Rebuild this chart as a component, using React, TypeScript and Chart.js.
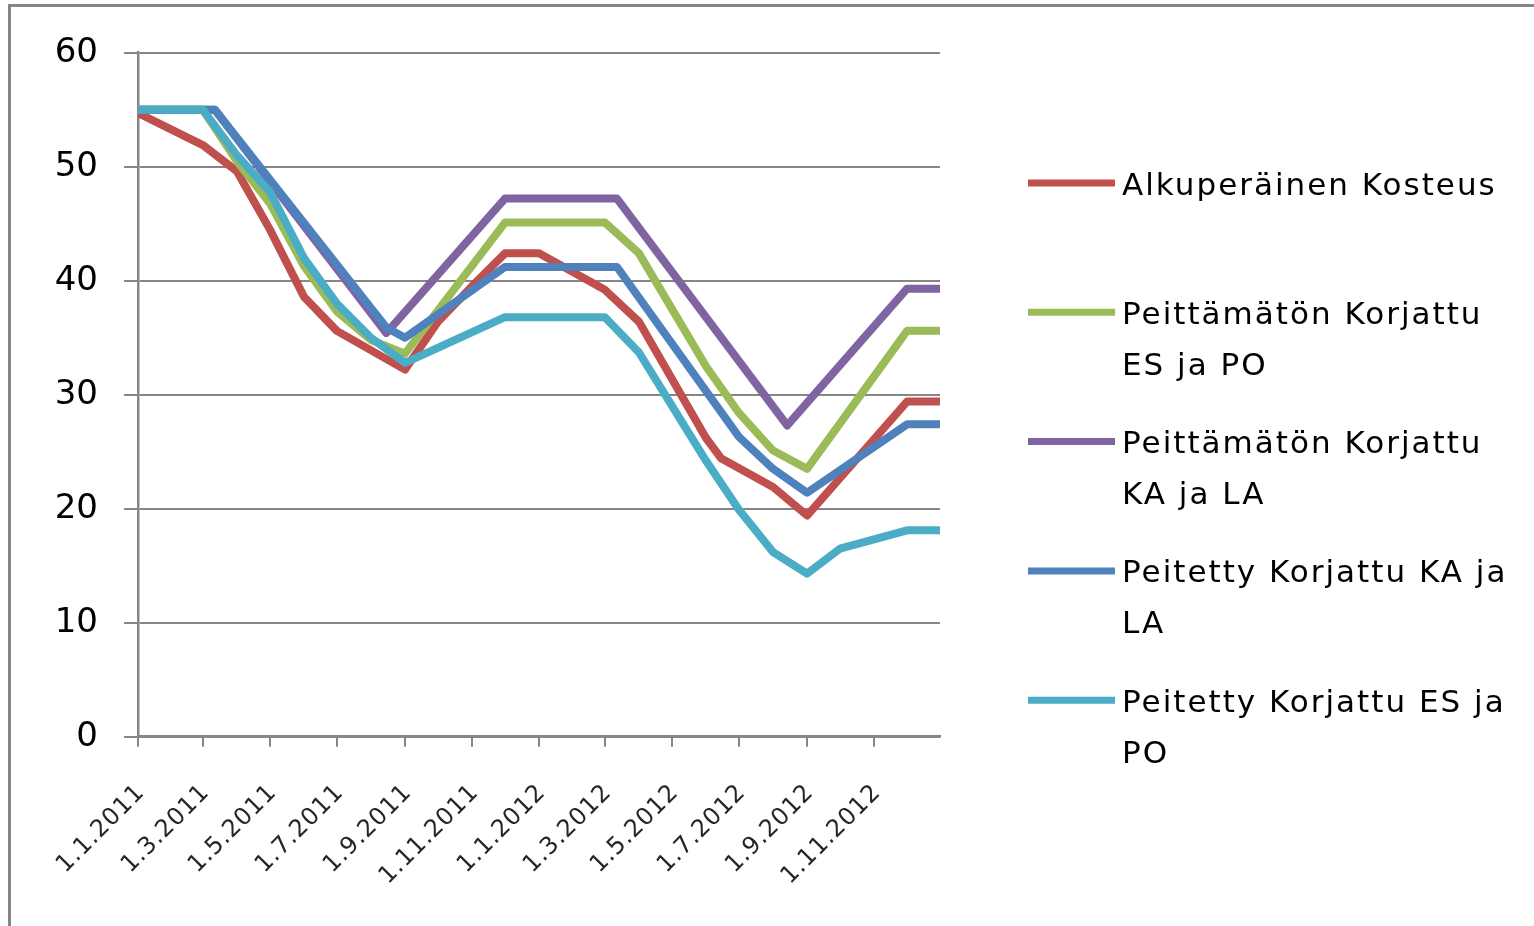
import React, { useEffect, useRef } from "react";
import { Chart, registerables } from "chart.js";

Chart.register(...registerables);

// Measurement dates (d.m.yyyy) shared by all series; null = no reading on that date
const dates = [
  "1.1.2011", "1.3.2011", "12.3.2011", "1.4.2011", "1.5.2011", "1.6.2011",
  "1.7.2011", "1.8.2011", "15.8.2011", "1.9.2011", "1.10.2011", "1.11.2011",
  "1.12.2011", "1.1.2012", "1.2.2012", "1.3.2012", "12.3.2012", "1.4.2012",
  "1.5.2012", "1.6.2012", "15.6.2012", "1.7.2012", "1.8.2012", "14.8.2012",
  "1.9.2012", "1.10.2012", "1.11.2012", "1.12.2012", "31.12.2012",
];

const alkuperainen = [
  54.7, 51.9, null, 49.6, 44.5, 38.6, 35.6, null, null, 32.2, 36.4, 39.5,
  42.4, 42.4, null, 39.2, null, 36.4, null, 26.2, 24.4, null, 21.9, null,
  19.4, null, null, 29.4, 29.4,
];
const peittamatonEsPo = [
  55, 55, null, 50.5, 46.8, 41.3, 37.3, 34.8, null, 33.6, null, null,
  45.1, null, null, 45.1, null, 42.4, null, 32.5, null, 28.4, 25.1, null,
  23.5, null, null, 35.6, 35.6,
];
const peittamatonKaLa = [
  55, null, 55, null, null, null, null, null, 35.4, null, null, null,
  47.2, null, null, null, 47.2, null, null, null, null, null, null, 27.3,
  null, null, null, 39.3, 39.3,
];
const peitettyKaLa = [
  55, null, 55, null, null, null, null, null, 35.9, 35.0, null, null,
  41.2, null, null, null, 41.2, null, null, null, null, 26.3, 23.5, null,
  21.4, null, null, 27.4, 27.4,
];
const peitettyEsPo = [
  55, 55, null, 51.0, 47.8, 42.0, 38.0, 35.0, null, 32.8, null, null,
  36.8, null, null, 36.8, null, 33.7, null, 24.2, null, 19.9, 16.2, null,
  14.3, 16.5, null, 18.1, 18.1,
];

const seriesNames = [
  "Alkuperäinen Kosteus",
  "Peittämätön Korjattu ES ja PO",
  "Peittämätön Korjattu KA ja LA",
  "Peitetty Korjattu KA ja LA",
  "Peitetty Korjattu ES ja PO",
];
const seriesValues = [alkuperainen, peittamatonEsPo, peittamatonKaLa, peitettyKaLa, peitettyEsPo];
const seriesColors = ["#C0504D", "#9BBB59", "#8064A2", "#4F81BD", "#4BACC6"];

const tickLabels = [
  "1.1.2011", "1.3.2011", "1.5.2011", "1.7.2011", "1.9.2011", "1.11.2011",
  "1.1.2012", "1.3.2012", "1.5.2012", "1.7.2012", "1.9.2012", "1.11.2012",
];

const yMin = 0;
const yMax = 60;
const yStep = 10;

const W = 1534;
const H = 926;
const GRAY = "#868686";

// days since 1.1.2011
function dayOf(s: string): number {
  const [d, m, y] = s.split(".").map(Number);
  return (Date.UTC(y, m - 1, d) - Date.UTC(2011, 0, 1)) / 86400000;
}

function wrapWords(ctx: CanvasRenderingContext2D, text: string, maxWidth: number, spacing: number): string[] {
  const words = text.split(" ");
  const lines: string[] = [];
  let cur = "";
  const width = (t: string) => ctx.measureText(t).width + spacing * t.length;
  for (const w of words) {
    const test = cur ? cur + " " + w : w;
    if (cur && width(test) > maxWidth) {
      lines.push(cur);
      cur = w;
    } else {
      cur = test;
    }
  }
  if (cur) lines.push(cur);
  return lines;
}

const decorPlugin = {
  id: "decor",
  afterDraw(chart: any) {
    const ctx: CanvasRenderingContext2D = chart.ctx;
    ctx.save();

    // outer frame (top and left edges)
    ctx.fillStyle = GRAY;
    ctx.fillRect(8, 4, W - 8, 3);
    ctx.fillRect(8, 4, 3, H - 4);

    // rotated date labels under the x axis
    const xs = chart.scales.x;
    ctx.font = '24px "DejaVu Sans"';
    (ctx as any).letterSpacing = "0.8px";
    ctx.fillStyle = "#262626";
    ctx.textAlign = "right";
    ctx.textBaseline = "middle";
    for (const t of tickLabels) {
      const px = xs.getPixelForValue(dayOf(t));
      ctx.save();
      ctx.translate(px + 3, 789);
      ctx.rotate(-Math.PI / 4);
      ctx.fillText(t, 0, 0);
      ctx.restore();
    }

    // legend on the right
    const spacing = 2;
    ctx.font = '31px "DejaVu Sans"';
    ctx.textAlign = "left";
    ctx.textBaseline = "alphabetic";
    ctx.fillStyle = "#000";
    chart.data.datasets.forEach((ds: any, i: number) => {
      const y = 183 + i * 129.3;
      ctx.strokeStyle = ds.borderColor;
      ctx.lineWidth = 7;
      ctx.lineCap = "butt";
      ctx.beginPath();
      ctx.moveTo(1028, y);
      ctx.lineTo(1115, y);
      ctx.stroke();
      (ctx as any).letterSpacing = "0px";
      const lines = wrapWords(ctx, ds.label, 395, spacing);
      (ctx as any).letterSpacing = spacing + "px";
      lines.forEach((ln, k) => {
        ctx.fillText(ln, 1122, y + 11.5 + k * 51);
      });
    });

    ctx.restore();
  },
};

export default function App() {
  const canvasRef = useRef<HTMLCanvasElement | null>(null);

  useEffect(() => {
    const canvas = canvasRef.current;
    if (!canvas) return;

    const datasets = seriesNames.map((name, i) => ({
      label: name,
      data: dates
        .map((d, k) => ({ x: dayOf(d), y: seriesValues[i][k] }))
        .filter((p) => p.y !== null),
      borderColor: seriesColors[i],
      backgroundColor: seriesColors[i],
      borderWidth: 8,
      pointRadius: 0,
      tension: 0,
      fill: false,
      borderJoinStyle: "round" as const,
      order: seriesNames.length - 1 - i,
    }));

    const chart = new Chart(canvas, {
      type: "line",
      data: { datasets },
      options: {
        animation: false,
        responsive: false,
        devicePixelRatio: 1,
        layout: { padding: { top: 52.7, right: W - 940, left: 0, bottom: 0 } },
        plugins: {
          legend: { display: false },
          tooltip: { enabled: false },
        },
        scales: {
          x: {
            type: "linear",
            min: dayOf(dates[0]),
            max: dayOf(dates[dates.length - 1]),
            afterBuildTicks: (s: any) => {
              s.ticks = tickLabels.map((t) => ({ value: dayOf(t) }));
            },
            afterFit: (s: any) => {
              s.height = H - 736.7;
            },
            ticks: { display: false },
            grid: {
              drawOnChartArea: false,
              drawTicks: true,
              tickLength: 10,
              color: GRAY,
              lineWidth: 2,
            },
            border: { color: GRAY, width: 2.5 },
          },
          y: {
            min: yMin,
            max: yMax,
            afterFit: (s: any) => {
              s.width = 138;
            },
            ticks: {
              stepSize: yStep,
              color: "#000",
              font: { family: "DejaVu Sans", size: 34 },
              padding: 26,
            },
            grid: { color: GRAY, lineWidth: 2, tickLength: 14 },
            border: { color: GRAY, width: 2.5 },
          },
        },
      },
      plugins: [decorPlugin],
    } as any);

    return () => chart.destroy();
  }, []);

  return (
    <div style={{ position: "absolute", left: 0, top: 0, width: W, height: H, background: "#fff" }}>
      <canvas ref={canvasRef} width={W} height={H} style={{ display: "block" }} />
    </div>
  );
}
